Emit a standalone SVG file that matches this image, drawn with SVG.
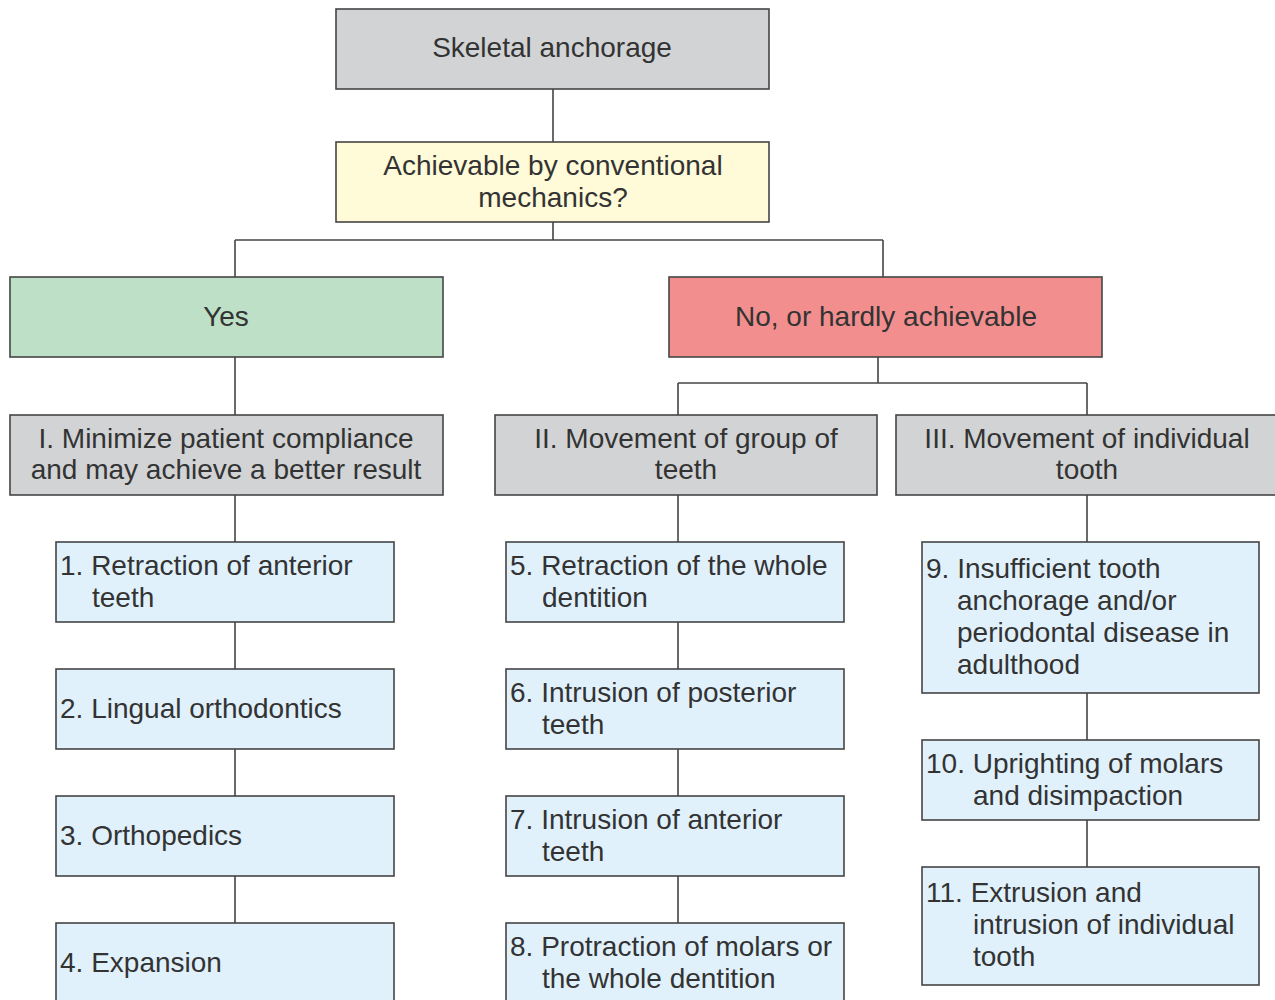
<svg xmlns="http://www.w3.org/2000/svg" width="1275" height="1000" viewBox="0 0 1275 1000">
<style>
.b{stroke:#454545;stroke-width:1.6}
.g{fill:#d2d3d5}
.y{fill:#fffad8}
.gr{fill:#bde0c6}
.r{fill:#f28f8e}
.bl{fill:#e0f1fc}
text{font-family:"Liberation Sans",Arial,sans-serif;font-size:28px;fill:#333333}
.c{text-anchor:middle}
.ln{stroke:#454545;stroke-width:1.6;fill:none}
</style>
<rect width="1275" height="1000" fill="#ffffff"/>
<g id="connectors">
<path class="ln" d="M553 89V142M553 222V240M235 240H883M235 240V277M883 240V277"/>
<path class="ln" d="M235 357V415M878 357V383M678 383H1087M678 383V415M1087 383V415"/>
<path class="ln" d="M235 495V542M235 622V669M235 749V796M235 876V923"/>
<path class="ln" d="M678 495V542M678 622V669M678 749V796M678 876V923"/>
<path class="ln" d="M1087 495V542M1087 693V740M1087 820V867"/>
</g>
<g id="skeletal"><rect class="b g" x="336" y="9" width="433" height="80"/><text class="c" x="552" y="57">Skeletal anchorage</text></g>
<g id="achievable"><rect class="b y" x="336" y="142" width="433" height="80"/><text class="c" x="553" y="175">Achievable by conventional</text><text class="c" x="553" y="207">mechanics?</text></g>
<g id="yes"><rect class="b gr" x="10" y="277" width="433" height="80"/><text class="c" x="226" y="326">Yes</text></g>
<g id="no"><rect class="b r" x="669" y="277" width="433" height="80"/><text class="c" x="886" y="326">No, or hardly achievable</text></g>
<g id="cat1"><rect class="b g" x="10" y="415" width="433" height="80"/><text class="c" x="226" y="448">I. Minimize patient compliance</text><text class="c" x="226" y="479">and may achieve a better result</text></g>
<g id="cat2"><rect class="b g" x="495" y="415" width="382" height="80"/><text class="c" x="686" y="448">II. Movement of group of</text><text class="c" x="686" y="479">teeth</text></g>
<g id="cat3"><rect class="b g" x="896" y="415" width="382" height="80"/><text class="c" x="1087" y="448">III. Movement of individual</text><text class="c" x="1087" y="479">tooth</text></g>
<g id="n1"><rect class="b bl" x="56" y="542" width="338" height="80"/><text x="60" y="575">1. Retraction of anterior</text><text x="92" y="607">teeth</text></g>
<g id="n2"><rect class="b bl" x="56" y="669" width="338" height="80"/><text x="60" y="718">2. Lingual orthodontics</text></g>
<g id="n3"><rect class="b bl" x="56" y="796" width="338" height="80"/><text x="60" y="845">3. Orthopedics</text></g>
<g id="n4"><rect class="b bl" x="56" y="923" width="338" height="82"/><text x="60" y="972">4. Expansion</text></g>
<g id="n5"><rect class="b bl" x="506" y="542" width="338" height="80"/><text x="510" y="575">5. Retraction of the whole</text><text x="542" y="607">dentition</text></g>
<g id="n6"><rect class="b bl" x="506" y="669" width="338" height="80"/><text x="510" y="702">6. Intrusion of posterior</text><text x="542" y="734">teeth</text></g>
<g id="n7"><rect class="b bl" x="506" y="796" width="338" height="80"/><text x="510" y="829">7. Intrusion of anterior</text><text x="542" y="861">teeth</text></g>
<g id="n8"><rect class="b bl" x="506" y="923" width="338" height="82"/><text x="510" y="956">8. Protraction of molars or</text><text x="542" y="988">the whole dentition</text></g>
<g id="n9"><rect class="b bl" x="922" y="542" width="337" height="151"/><text x="926" y="578">9. Insufficient tooth</text><text x="957" y="610">anchorage and/or</text><text x="957" y="642">periodontal disease in</text><text x="957" y="674">adulthood</text></g>
<g id="n10"><rect class="b bl" x="922" y="740" width="337" height="80"/><text x="926" y="773">10. Uprighting of molars</text><text x="973" y="805">and disimpaction</text></g>
<g id="n11"><rect class="b bl" x="922" y="867" width="337" height="118"/><text x="926" y="902">11. Extrusion and</text><text x="973" y="934">intrusion of individual</text><text x="973" y="966">tooth</text></g>
</svg>
